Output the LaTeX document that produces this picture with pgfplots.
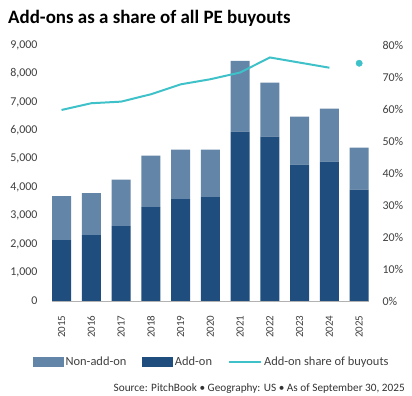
\documentclass[border=0pt]{standalone}
\usepackage{pgfplots}
\pgfplotsset{compat=1.18}
\usepackage{fontspec}
\setmainfont{Carlito}
\definecolor{nonadd}{HTML}{6285A8}
\definecolor{addon}{HTML}{1F4E7E}
\definecolor{share}{HTML}{3EC1C8}
\definecolor{ticktext}{HTML}{404040}
\begin{document}
\begin{tikzpicture}
\useasboundingbox (0bp,0bp) rectangle (412bp,396bp);
\node[anchor=base west, inner sep=0, font=\bfseries\fontsize{19}{22}\selectfont] at (8bp,372bp) {Add-ons as a share of all PE buyouts};
\begin{axis}[
  at={(52bp,95bp)}, anchor=south west, scale only axis, width=317bp, height=256bp,
  ybar stacked, bar width=19bp,
  xmin=-0.32, xmax=10.33, ymin=0, ymax=9000,
  ytick={0,1000,...,9000},
  xtick={0,...,10},
  xticklabels={2015,2016,2017,2018,2019,2020,2021,2022,2023,2024,2025},
  axis x line*=bottom, axis y line*=left,
  x axis line style={draw=black!30, line width=0.8pt, -},
  y axis line style={draw=none},
  major tick length=0pt,
  /pgf/number format/assume math mode=true,
  /pgf/number format/1000 sep={,},
  tick label style={font=\fontsize{12}{14}\selectfont, text=ticktext},
  x tick label style={rotate=90, anchor=east, font=\fontsize{11}{13}\selectfont, xshift=-11bp},
  y tick label style={xshift=-11bp},
  legend style={at={(-0.06,-0.238)}, anchor=west, draw=none, fill=none,
    font=\fontsize{12.5}{14}\selectfont, text=ticktext, inner sep=0pt,
    /tikz/every even column/.append style={column sep=14bp}},
  legend columns=3,
]
\addplot[fill=addon, draw=none, forget plot] coordinates {
 (0,2140) (1,2316) (2,2632) (3,3298) (4,3579) (5,3649) (6,5954) (7,5779) (8,4796) (9,4902) (10,3919)};
\addplot[fill=nonadd, draw=none, forget plot] coordinates {
 (0,1544) (1,1474) (2,1638) (3,1814) (4,1744) (5,1674) (6,2492) (7,1895) (8,1685) (9,1859) (10,1474)};
\addlegendimage{legend image code/.code={\fill[nonadd] (0bp,-4.5bp) rectangle (30bp,4.5bp);}}
\addlegendentry{Non-add-on}
\addlegendimage{legend image code/.code={\fill[addon] (0bp,-4.5bp) rectangle (30bp,4.5bp);}}
\addlegendentry{Add-on}
\addlegendimage{legend image code/.code={\draw[share, line width=2pt] (0bp,0bp) -- (32bp,0bp);}}
\addlegendentry{Add-on share of buyouts}
\end{axis}
\begin{axis}[
  at={(52bp,95bp)}, anchor=south west, scale only axis, width=317bp, height=256bp,
  xmin=-0.32, xmax=10.33, ymin=0, ymax=0.8,
  ytick={0,0.1,...,0.8},
  yticklabels={0\%,10\%,20\%,30\%,40\%,50\%,60\%,70\%,80\%},
  axis y line*=right, axis x line=none,
  y axis line style={draw=none},
  major tick length=0pt,
  tick label style={font=\fontsize{12}{14}\selectfont, text=ticktext},
  y tick label style={xshift=10bp},
]
\addplot[share, line width=2pt, mark=none] coordinates {
 (0,0.597) (1,0.618) (2,0.623) (3,0.646) (4,0.677) (5,0.693) (6,0.714) (7,0.761) (8,0.745) (9,0.729)};
\addplot[share, only marks, mark=*, mark size=3.2bp] coordinates {(10,0.743)};
\end{axis}
\node[anchor=base east, inner sep=0, font=\fontsize{11.3}{13}\selectfont, text=black!80] at (405bp,5bp) {Source: PitchBook \textbullet\ Geography: US \textbullet\ As of September 30, 2025};
\end{tikzpicture}
\end{document}
